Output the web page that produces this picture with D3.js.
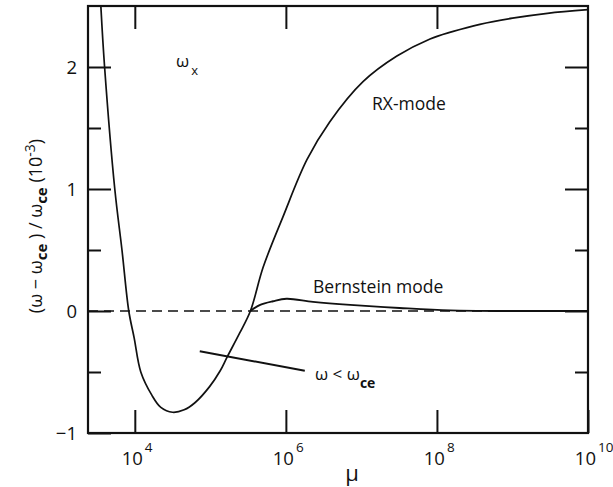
<!DOCTYPE html>
<html><head><meta charset="utf-8">
<script src="https://cdn.jsdelivr.net/npm/d3@7/dist/d3.min.js"></script>
<style>
html,body{margin:0;padding:0;background:#fff;}
text{font-family:"Open Sans",sans-serif;fill:#111;}
</style></head>
<body><svg id="c" width="613" height="487"></svg>
<script>
// ---- data ----
const muDomain = [2400, 1e10];
const yDomain = [-1, 2.5];
const yMajorTicks = [-1, 0, 1, 2];
const yMinorTicks = [-0.5, 0.5, 1.5];
const xTickExponents = [4, 6, 8, 10];

// RX-mode branch (mu, (w-wce)/wce in 1e-3)
const rxMu = [3550, 3980, 5430, 6760, 8320, 9800, 12000, 16800, 22100, 31600, 45000, 63000, 97700, 135000, 166000, 245000, 339000, 501000, 912000, 1.9e6, 3.8e6, 1.05e7, 2.95e7, 8.1e7, 1.6e8, 3.7e8, 1.0e9, 2.9e9, 1e10];
const rxVal = [2.5, 2.0, 1.0, 0.5, 0.0, -0.22, -0.5, -0.69, -0.79, -0.83, -0.81, -0.75, -0.62, -0.49, -0.38, -0.18, 0.0, 0.36, 0.77, 1.24, 1.55, 1.88, 2.09, 2.23, 2.29, 2.35, 2.40, 2.44, 2.47];

// Bernstein mode branch
const bmMu = [339000, 457000, 676000, 1.02e6, 2.29e6, 7.1e6, 3.2e7, 1.5e8, 1e9, 1e10];
const bmVal = [0.0, 0.05, 0.08, 0.1, 0.075, 0.05, 0.025, 0.005, 0.0, 0.0];

// pointer for "w < wce"
const ptrMu = [72400, 1.78e6];
const ptrVal = [-0.33, -0.49];

// ---- layout ----
const svg = d3.select("#c");
const L = 88, R = 588, T = 6, B = 433;
const x = d3.scaleLog().domain(muDomain).range([L, R]);
const y = d3.scaleLinear().domain(yDomain).range([B, T]);

svg.append("defs").append("clipPath").attr("id","clip")
  .append("rect").attr("x",L).attr("y",T).attr("width",R-L).attr("height",B-T);

// zero dashed line
svg.append("line").attr("x1",L).attr("x2",R).attr("y1",y(0)).attr("y2",y(0))
  .attr("stroke","#111").attr("stroke-width",1.6).attr("stroke-dasharray","10,6");

const line = d3.line().x(d=>x(d[0])).y(d=>y(d[1])).curve(d3.curveCatmullRom.alpha(0.5));
const g = svg.append("g").attr("clip-path","url(#clip)");
g.append("path").datum(rxMu.map((m,i)=>[m,rxVal[i]])).attr("d",line)
  .attr("fill","none").attr("stroke","#111").attr("stroke-width",1.7);
g.append("path").datum(bmMu.map((m,i)=>[m,bmVal[i]])).attr("d",line)
  .attr("fill","none").attr("stroke","#111").attr("stroke-width",1.9);
g.append("path").datum(ptrMu.map((m,i)=>[m,ptrVal[i]])).attr("d",d3.line().x(d=>x(d[0])).y(d=>y(d[1])))
  .attr("fill","none").attr("stroke","#111").attr("stroke-width",2);

// axes
function styleAxis(sel){
  sel.select(".domain").remove();
  sel.selectAll(".tick line").attr("stroke","#111").attr("stroke-width",2);
}
const xTicks = xTickExponents.map(e=>Math.pow(10,e));
svg.append("g").attr("transform",`translate(0,${B})`)
  .call(d3.axisBottom(x).tickValues(xTicks).tickSizeInner(-23).tickSizeOuter(0).tickFormat(()=>""))
  .call(styleAxis);
svg.append("g").attr("transform",`translate(0,${T})`)
  .call(d3.axisTop(x).tickValues(xTicks.filter(v=>v<1e10)).tickSizeInner(-23).tickSizeOuter(0).tickFormat(()=>""))
  .call(styleAxis);
svg.append("g").attr("transform",`translate(${L},0)`)
  .call(d3.axisLeft(y).tickValues(yMajorTicks).tickSizeInner(-23).tickSizeOuter(0).tickPadding(11).tickFormat(d3.format("d")))
  .call(styleAxis)
  .call(s=>s.selectAll(".tick text").attr("font-size",18.5).attr("font-family","Open Sans").attr("font-weight",500).attr("fill","#111").attr("dy","0.35em"));
svg.append("g").attr("transform",`translate(${L},0)`)
  .call(d3.axisLeft(y).tickValues(yMinorTicks).tickSizeInner(-13).tickSizeOuter(0).tickFormat(()=>""))
  .call(styleAxis);
svg.append("g").attr("transform",`translate(${R},0)`)
  .call(d3.axisRight(y).tickValues(yMajorTicks.filter(v=>v>-1)).tickSizeInner(-23).tickSizeOuter(0).tickFormat(()=>""))
  .call(styleAxis);
svg.append("g").attr("transform",`translate(${R},0)`)
  .call(d3.axisRight(y).tickValues(yMinorTicks).tickSizeInner(-13).tickSizeOuter(0).tickFormat(()=>""))
  .call(styleAxis);

// frame
svg.append("rect").attr("x",L).attr("y",T).attr("width",R-L).attr("height",B-T)
  .attr("fill","none").attr("stroke","#111").attr("stroke-width",2.2);

// x tick labels 10^n
xTickExponents.forEach(e=>{
  const px = x(Math.pow(10,e));
  svg.append("text").attr("x",px+8).attr("y",465).attr("text-anchor","end")
    .attr("font-size",18.5).attr("font-weight",500).text("10");
  svg.append("text").attr("x",px+10).attr("y",452).attr("text-anchor","start")
    .attr("font-size",13.5).attr("font-weight",500).text(String(e));
});

// axis titles
svg.append("text").attr("x",352).attr("y",481).attr("text-anchor","middle")
  .attr("font-size",22).text("μ");

const yt = svg.append("text").attr("transform","translate(42,226) rotate(-90)")
  .attr("text-anchor","middle").attr("font-size",18).attr("font-weight",500);
yt.append("tspan").text("(ω − ω");
yt.append("tspan").attr("dy",5).attr("font-size",15).attr("font-weight","bold").text("ce");
yt.append("tspan").attr("dy",-5).text(" ) / ω");
yt.append("tspan").attr("dy",5).attr("font-size",15).attr("font-weight","bold").text("ce");
yt.append("tspan").attr("dy",-5).text(" (10");
yt.append("tspan").attr("dy",-7).attr("font-size",14).text("-3");
yt.append("tspan").attr("dy",7).text(")");

// annotations
const wx = svg.append("text").attr("x",176).attr("y",67).attr("font-size",17).attr("font-weight",500);
wx.append("tspan").text("ω");
wx.append("tspan").attr("dy",8).attr("dx",2).attr("font-size",13).text("x");

svg.append("text").attr("x",372).attr("y",110).attr("font-size",17.5).attr("font-weight",500).text("RX-mode");
svg.append("text").attr("x",313).attr("y",293).attr("font-size",17.5).attr("font-weight",500).text("Bernstein mode");
const wl = svg.append("text").attr("x",315).attr("y",380).attr("font-size",17).attr("font-weight",500);
wl.append("tspan").text("ω < ω");
wl.append("tspan").attr("dy",8).attr("font-size",14).attr("font-weight","bold").text("ce");
</script></body></html>
